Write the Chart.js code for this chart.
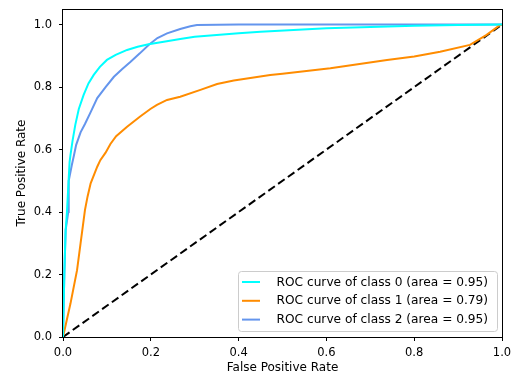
<!DOCTYPE html>
<html>
<head>
<meta charset="utf-8">
<script src="https://cdn.jsdelivr.net/npm/chart.js@4.4.1/dist/chart.umd.min.js"></script>
<style>
  html, body { margin: 0; padding: 0; background: #fff; }
  #wrap { width: 513px; height: 376px; }
</style>
</head>
<body>
<div id="wrap"><canvas id="roc"></canvas></div>
<script>
// ROC curve values
const fpr0 = [0, 0.003, 0.006, 0.009, 0.015, 0.017, 0.022, 0.028, 0.036, 0.047, 0.058, 0.070, 0.084, 0.100, 0.120, 0.146, 0.170, 0.195, 0.233, 0.267, 0.300, 0.400, 0.450, 0.600, 0.700, 0.800, 0.900, 1];
const tpr0 = [0, 0.200, 0.340, 0.400, 0.560, 0.582, 0.630, 0.679, 0.730, 0.775, 0.812, 0.839, 0.865, 0.887, 0.903, 0.919, 0.929, 0.937, 0.946, 0.954, 0.961, 0.972, 0.977, 0.988, 0.992, 0.996, 0.999, 1];

const fpr1 = [0, 0.017, 0.032, 0.040, 0.044, 0.050, 0.056, 0.063, 0.078, 0.085, 0.097, 0.108, 0.121, 0.146, 0.175, 0.199, 0.214, 0.237, 0.267, 0.313, 0.351, 0.389, 0.472, 0.500, 0.609, 0.738, 0.800, 0.859, 0.927, 0.965, 0.995, 1];
const tpr1 = [0, 0.107, 0.214, 0.300, 0.342, 0.406, 0.450, 0.492, 0.545, 0.566, 0.590, 0.618, 0.643, 0.673, 0.705, 0.730, 0.743, 0.759, 0.769, 0.791, 0.810, 0.821, 0.839, 0.843, 0.860, 0.887, 0.898, 0.913, 0.935, 0.967, 0.998, 1];

const fpr2 = [0, 0.003, 0.006, 0.012, 0.013, 0.020, 0.025, 0.030, 0.040, 0.050, 0.063, 0.078, 0.097, 0.116, 0.135, 0.154, 0.175, 0.195, 0.215, 0.237, 0.267, 0.290, 0.305, 0.400, 1];
const tpr2 = [0, 0.200, 0.342, 0.400, 0.500, 0.550, 0.582, 0.615, 0.655, 0.682, 0.720, 0.765, 0.800, 0.833, 0.858, 0.881, 0.908, 0.935, 0.957, 0.972, 0.986, 0.995, 0.999, 1, 1];

const chanceX = [0, 1];
const chanceY = [0, 1];

const classLabels = ["ROC curve of class 0 (area = 0.95)", "ROC curve of class 1 (area = 0.79)", "ROC curve of class 2 (area = 0.95)"];
const tickValues = [0, 0.2, 0.4, 0.6, 0.8, 1.0];

function pts(xs, ys) {
    return xs.map((x, i) => ({ x: x, y: ys[i] }));
}

const FONT = "'DejaVu Sans', sans-serif";

// frame round the plot + legend in the lower right, like matplotlib
const framePlugin = {
    id: "frame",
    afterDatasetsDraw(chart) {
        const { ctx, chartArea: a } = chart;
        ctx.save();
        ctx.strokeStyle = "#000";
        ctx.lineWidth = 1;
        ctx.strokeRect(Math.round(a.left) - 0.5, Math.round(a.top) + 0.5, Math.round(a.right - a.left) + 1, Math.round(a.bottom - a.top));
        ctx.restore();
    },
    afterDraw(chart) {
        const ctx = chart.ctx;
        const x0 = 238, y0 = 271, w = 259, h = 60;
        ctx.save();
        ctx.fillStyle = "rgba(255,255,255,0.8)";
        ctx.strokeStyle = "#cccccc";
        ctx.lineWidth = 1;
        ctx.beginPath();
        ctx.roundRect(x0 + 0.5, y0 + 0.5, w, h, 3);
        ctx.fill();
        ctx.stroke();
        ctx.font = "12.2px " + FONT;
        ctx.textBaseline = "middle";
        ctx.fillStyle = "#000";
        const ds = chart.data.datasets.slice(0, 3);
        ds.forEach((d, i) => {
            const yy = y0 + 11 + i * 18.8;
            ctx.strokeStyle = d.borderColor;
            ctx.lineWidth = 2;
            ctx.beginPath();
            ctx.moveTo(x0 + 4, yy);
            ctx.lineTo(x0 + 22, yy);
            ctx.stroke();
            ctx.fillText(d.label, x0 + 38.5, yy + 0.5);
        });
        ctx.restore();
    }
};

new Chart(document.getElementById("roc"), {
    type: "line",
    data: {
        datasets: [
            { label: classLabels[0], data: pts(fpr0, tpr0), borderColor: "#00ffff" },
            { label: classLabels[1], data: pts(fpr1, tpr1), borderColor: "#ff8c00" },
            { label: classLabels[2], data: pts(fpr2, tpr2), borderColor: "#6495ed" },
            { label: "chance", data: pts(chanceX, chanceY), borderColor: "#000", borderDash: [8, 4] }
        ]
    },
    options: {
        responsive: true,
        maintainAspectRatio: false,
        animation: false,
        parsing: false,
        elements: {
            line: { borderWidth: 2, tension: 0, fill: false },
            point: { radius: 0 }
        },
        layout: { padding: { left: 0, right: 11, top: 9, bottom: 0 } },
        plugins: {
            legend: { display: false },
            tooltip: { enabled: false }
        },
        scales: {
            x: {
                type: "linear",
                min: 0,
                max: 1,
                afterBuildTicks: s => { s.ticks = tickValues.map(v => ({ value: v })); },
                afterFit: s => { s.height = 39; s.paddingLeft = 0; s.paddingRight = 0; },
                grid: { drawOnChartArea: false, drawTicks: true, tickLength: 4, color: "#000" },
                border: { display: false },
                ticks: { color: "#000", padding: 5, maxRotation: 0, font: { family: FONT, size: 11.5 }, callback: v => v.toFixed(1) },
                title: { display: true, text: "False Positive Rate", color: "#000", padding: { top: 0, bottom: 1 }, font: { family: FONT, size: 12 } }
            },
            y: {
                type: "linear",
                min: 0,
                max: 1.05,
                afterBuildTicks: s => { s.ticks = tickValues.map(v => ({ value: v })); },
                afterFit: s => { s.width = 63; s.paddingTop = 0; s.paddingBottom = 0; },
                grid: { drawOnChartArea: false, drawTicks: true, tickLength: 4, color: "#000" },
                border: { display: false },
                ticks: { color: "#000", padding: 7, font: { family: FONT, size: 11.5 }, callback: v => v.toFixed(1) },
                title: { display: true, text: "True Positive Rate", color: "#000", padding: { top: 14.5, bottom: 0 }, font: { family: FONT, size: 12 } }
            }
        }
    },
    plugins: [framePlugin]
});
</script>
</body>
</html>
